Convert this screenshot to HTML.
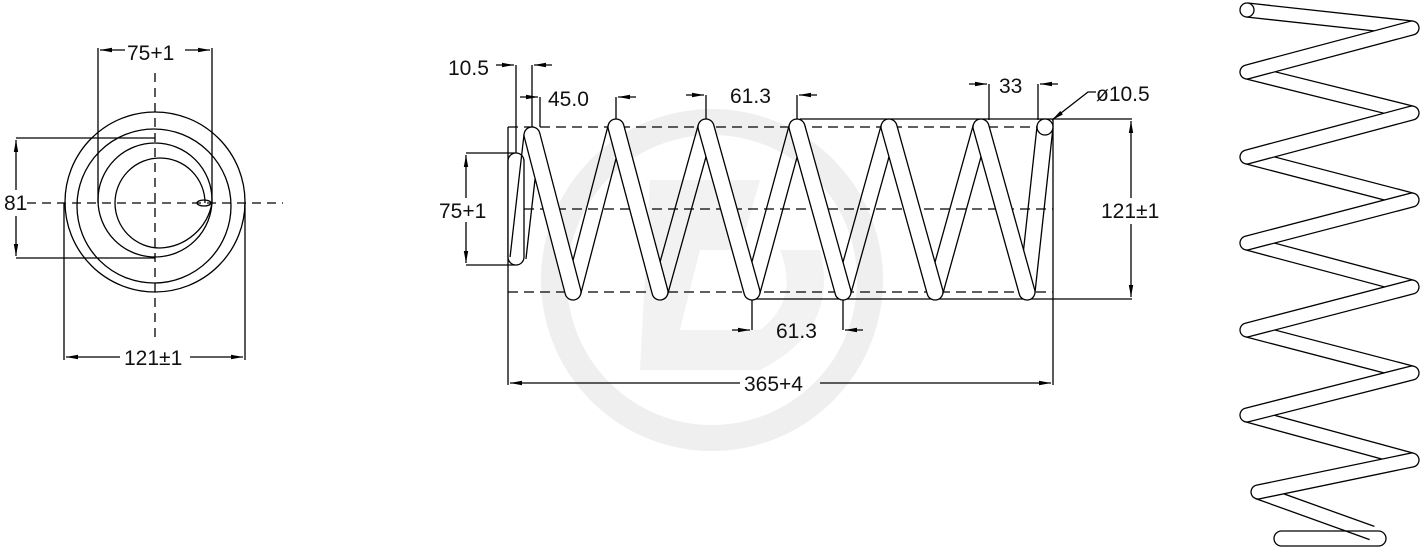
<!DOCTYPE html>
<html><head><meta charset="utf-8"><style>
html,body{margin:0;padding:0;background:#fff;}
svg{display:block;}
text{font-family:"Liberation Sans",sans-serif;font-size:21px;fill:#111;}
</style></head><body>
<svg id="s" width="1424" height="552" viewBox="0 0 1424 552" xmlns="http://www.w3.org/2000/svg">
<defs>
<marker id="a" markerWidth="12" markerHeight="6" refX="12" refY="3" orient="auto" markerUnits="userSpaceOnUse"><path d="M0,0.8 L12,3 L0,5.2z" fill="#000"/></marker>
</defs>
<circle cx="712" cy="280" r="158" fill="none" stroke="#efefef" stroke-width="26"/>
<path d="M650 180 L760 180 L740 250 L700 250 L680 330 L760 330 Q800 300 780 250 L820 250 Q840 330 760 370 L640 370 Z" fill="#f2f2f2"/>

<g fill="none" stroke="#000" stroke-width="1.3">
<circle cx="155" cy="202" r="90"/>
<circle cx="154" cy="206" r="77"/>
<circle cx="155" cy="200" r="57"/>
<path d="M205 203 A45 45 0 1 0 160 248 A55 55 0 0 0 212 203"/>
<ellipse cx="204" cy="203" rx="7" ry="3"/>
<path d="M27 203 H283 M155 73 V340" stroke-dasharray="9 6"/>
<path d="M98 203 V48 M212 203 V48 M16 138 H155 M16 258 H155 M64 203 V360 M245 203 V360"/>
<path d="M125 50 H100" marker-end="url(#a)"/><path d="M185 50 H210" marker-end="url(#a)"/>
<path d="M16 190 V140" marker-end="url(#a)"/><path d="M16 216 V256" marker-end="url(#a)"/>
<path d="M120 357 H66" marker-end="url(#a)"/><path d="M190 357 H243" marker-end="url(#a)"/>

<path d="M508 127 V385 M1053 119 V385 M800 119 H1132 M750 299 H1132"/>
<path d="M508 127 H1053 M508 209 H1053 M508 292 H1053" stroke-dasharray="10 6"/>
<path d="M1131 198 V121" marker-end="url(#a)"/><path d="M1131 224 V297" marker-end="url(#a)"/>
<path d="M740 383 H510" marker-end="url(#a)"/><path d="M820 383 H1051" marker-end="url(#a)"/>
<path d="M466 153 H515 M466 265 H515"/>
<path d="M466 198 V155" marker-end="url(#a)"/><path d="M466 222 V263" marker-end="url(#a)"/>
<path d="M516 153 V65 M532 135 V65"/>
<path d="M496 65 H514" marker-end="url(#a)"/><path d="M552 65 H534" marker-end="url(#a)"/>
<path d="M540 97 V127 M616 120 V97"/>
<path d="M520 97 H538" marker-end="url(#a)"/><path d="M636 97 H618" marker-end="url(#a)"/>
<path d="M706 120 V95 M797 120 V95"/>
<path d="M686 95 H704" marker-end="url(#a)"/><path d="M817 95 H799" marker-end="url(#a)"/>
<path d="M989 120 V84 M1038 120 V84"/>
<path d="M969 84 H987" marker-end="url(#a)"/><path d="M1058 84 H1040" marker-end="url(#a)"/>
<path d="M1096 92 H1088 L1052 120"/>
<path d="M1060 114 L1052 120" marker-end="url(#a)"/>
<path d="M752 300 V330 M843 300 V330"/>
<path d="M732 330 H750" marker-end="url(#a)"/><path d="M863 330 H845" marker-end="url(#a)"/>
<rect x="508" y="153" width="16" height="112" rx="8" fill="#fff"/>
<rect x="1274" y="531" width="112" height="15" rx="7.5" fill="#fff"/>
</g>
<g id="coils" stroke="#000" stroke-width="1.3"></g>

<text x="127" y="60">75+1</text>
<text x="4" y="210">81</text>
<text x="124" y="365">121±1</text>
<text x="448" y="75">10.5</text>
<text x="548" y="106">45.0</text>
<text x="730" y="103">61.3</text>
<text x="999" y="93">33</text>
<text x="1096" y="101">ø10.5</text>
<text x="439" y="218">75+1</text>
<text x="1101" y="218">121±1</text>
<text x="776" y="338">61.3</text>
<text x="744" y="391">365+4</text>
</svg>
<script>
(function(){
var g=document.getElementById('coils'),NS='http://www.w3.org/2000/svg';
function add(d,fill){var p=document.createElementNS(NS,'path');p.setAttribute('d',d);p.setAttribute('fill',fill);g.appendChild(p);}
function capsule(a,b,r){
  var dx=b[0]-a[0],dy=b[1]-a[1],L=Math.hypot(dx,dy),nx=-dy/L*r,ny=dx/L*r;
  return 'M'+(a[0]+nx)+' '+(a[1]+ny)+'L'+(b[0]+nx)+' '+(b[1]+ny)+'A'+r+' '+r+' 0 0 0 '+(b[0]-nx)+' '+(b[1]-ny)+'L'+(a[0]-nx)+' '+(a[1]-ny)+'A'+r+' '+r+' 0 0 0 '+(a[0]+nx)+' '+(a[1]+ny)+'Z';
}
function lines(a,b,r){
  var dx=b[0]-a[0],dy=b[1]-a[1],L=Math.hypot(dx,dy),nx=-dy/L*r,ny=dx/L*r;
  return 'M'+(a[0]+nx)+' '+(a[1]+ny)+'L'+(b[0]+nx)+' '+(b[1]+ny)+'M'+(a[0]-nx)+' '+(a[1]-ny)+'L'+(b[0]-nx)+' '+(b[1]-ny);
}
function coil(P,r,ends){
  var d='';
  for(var i=0;i<P.length-1;i+=2) d+=lines(P[i],P[i+1],r);
  add(d,'none');
  for(var i=1;i<P.length-1;i+=2) add(capsule(P[i],P[i+1],r),'#fff');
  ends.forEach(function(c){var ci=document.createElementNS(NS,'circle');ci.setAttribute('cx',c[0]);ci.setAttribute('cy',c[1]);ci.setAttribute('r',r);ci.setAttribute('fill','#fff');g.appendChild(ci);});
}
coil([[518,258],[532,135],[573,292],[616,127],[660,292],[706,127],[752,292],[797,127],[843,292],[889,127],[935,292],[981,127],[1027,292],[1045,127]],8,[[1045,127]]);
coil([[1247,10],[1412,28],[1247,72],[1412,113],[1247,157],[1412,200],[1247,243],[1412,287],[1247,330],[1412,373],[1247,415],[1412,460],[1258,492],[1372,533]],7,[[1247,10]]);
})();
</script>
</body></html>
